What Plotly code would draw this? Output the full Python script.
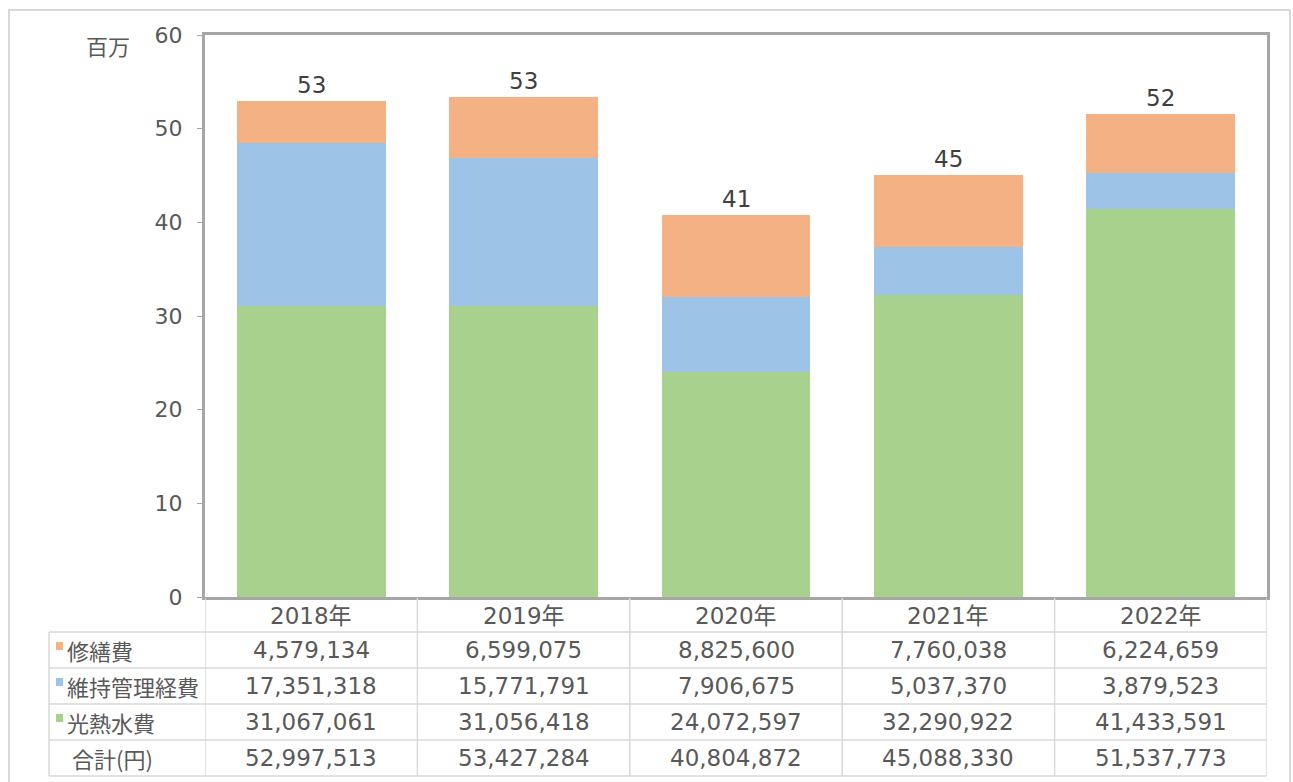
import plotly.graph_objects as go

years = ["2018年", "2019年", "2020年", "2021年", "2022年"]
repair = [4579134, 6599075, 8825600, 7760038, 6224659]          # 修繕費
maintenance = [17351318, 15771791, 7906675, 5037370, 3879523]   # 維持管理経費
utilities = [31067061, 31056418, 24072597, 32290922, 41433591]  # 光熱水費
totals = [52997513, 53427284, 40804872, 45088330, 51537773]     # 合計(円)
total_labels = ["53", "53", "41", "45", "52"]
y_ticks = [0, 10, 20, 30, 40, 50, 60]

series = [
    ("光熱水費", utilities, "#A9D18E"),
    ("維持管理経費", maintenance, "#9DC3E6"),
    ("修繕費", repair, "#F4B183"),
]

FONT = "DejaVu Sans, Noto Sans CJK JP"
CJK = "Noto Sans CJK JP"
TXT = "#595959"
W, H = 1293, 782

def px(x):
    return x / W

def py(y):
    return 1 - y / H

fig = go.Figure()
for name, vals, col in series:
    fig.add_trace(go.Bar(
        x=years, y=[v / 1e6 for v in vals], name=name,
        marker=dict(color=col, line=dict(width=0)),
        width=0.7, showlegend=False, hoverinfo="skip",
    ))

annotations = []
# total labels above bars
for yr, t, lab in zip(years, totals, total_labels):
    annotations.append(dict(x=yr, y=t / 1e6, xref="x", yref="y", text=lab,
                            showarrow=False, yshift=16, xanchor="center", yanchor="middle",
                            font=dict(family=FONT, size=23, color="#404040")))

# unit label
annotations.append(dict(x=px(108), y=py(45), xref="paper", yref="paper", text="百万",
                        showarrow=False, xanchor="center", yanchor="middle",
                        font=dict(family=CJK, size=22, color=TXT)))

# table
row_bounds = [598, 632, 668, 704, 740, 776]
row_centers = [(row_bounds[i] + row_bounds[i + 1]) / 2 for i in range(5)]
table_rows = [
    ("修繕費", repair, "#F4B183"),
    ("維持管理経費", maintenance, "#9DC3E6"),
    ("光熱水費", utilities, "#A9D18E"),
    ("合計(円)", totals, None),
]

for yr in years:
    annotations.append(dict(x=yr, y=py(row_centers[0] + 1), xref="x", yref="paper", text=yr,
                            showarrow=False, xanchor="center", yanchor="middle",
                            font=dict(family=FONT, size=23, color=TXT)))

shapes = []
for i, (label, vals, col) in enumerate(table_rows):
    yc = row_centers[i + 1]
    if col:
        shapes.append(dict(type="rect", xref="paper", yref="paper",
                           x0=px(56), x1=px(63), y0=py(yc), y1=py(yc - 8),
                           fillcolor=col, line=dict(width=0)))
        xl = 65
    else:
        xl = 70
    annotations.append(dict(x=px(xl), y=py(yc), xref="paper", yref="paper", text=label,
                            xanchor="left", yanchor="middle", showarrow=False,
                            font=dict(family=CJK, size=22, color=TXT)))
    for yr, v in zip(years, vals):
        annotations.append(dict(x=yr, y=py(yc), xref="x", yref="paper", text=f"{v:,}",
                                showarrow=False, xanchor="center", yanchor="middle",
                                font=dict(family=FONT, size=23, color=TXT)))

GRID = "#D9D9D9"
# horizontal table lines
for yb in row_bounds[1:]:
    shapes.append(dict(type="line", xref="paper", yref="paper",
                       x0=px(49), x1=px(1267), y0=py(yb), y1=py(yb),
                       line=dict(color=GRID, width=1.5)))
# vertical lines at category boundaries
for k in range(len(years) + 1):
    shapes.append(dict(type="line", xref="x", yref="paper",
                       x0=k - 0.5, x1=k - 0.5, y0=py(598), y1=py(776),
                       line=dict(color=GRID, width=1.5)))
# left column vertical line
shapes.append(dict(type="line", xref="paper", yref="paper",
                   x0=px(49), x1=px(49), y0=py(632), y1=py(776),
                   line=dict(color=GRID, width=1.5)))
# outer frame
shapes.append(dict(type="rect", xref="paper", yref="paper",
                   x0=px(9), x1=px(1290), y0=py(10), y1=py(795),
                   line=dict(color="#D9D9D9", width=2), fillcolor="rgba(0,0,0,0)"))

fig.update_layout(
    width=W, height=H, barmode="stack",
    margin=dict(l=0, r=0, t=0, b=0, pad=0),
    paper_bgcolor="white", plot_bgcolor="white",
    xaxis=dict(domain=[px(205), px(1267)], range=[-0.5, 4.5], showticklabels=False,
               showline=True, mirror=True, linecolor="#A6A6A6", linewidth=3,
               ticks="", showgrid=False, zeroline=False, automargin=False),
    yaxis=dict(domain=[py(597), py(35)], range=[0, 60], tickvals=y_ticks,
               showline=True, mirror=True, linecolor="#A6A6A6", linewidth=3,
               ticks="outside", ticklen=5, tickcolor="#A6A6A6", tickwidth=1,
               showgrid=False, zeroline=False, automargin=False,
               tickfont=dict(family=FONT, size=22, color=TXT), ticklabelstandoff=10),
    annotations=annotations, shapes=shapes,
)

fig.write_html("out.html", config={"displayModeBar": False},
               post_script="document.body.style.margin='0';document.body.style.overflow='hidden';")
